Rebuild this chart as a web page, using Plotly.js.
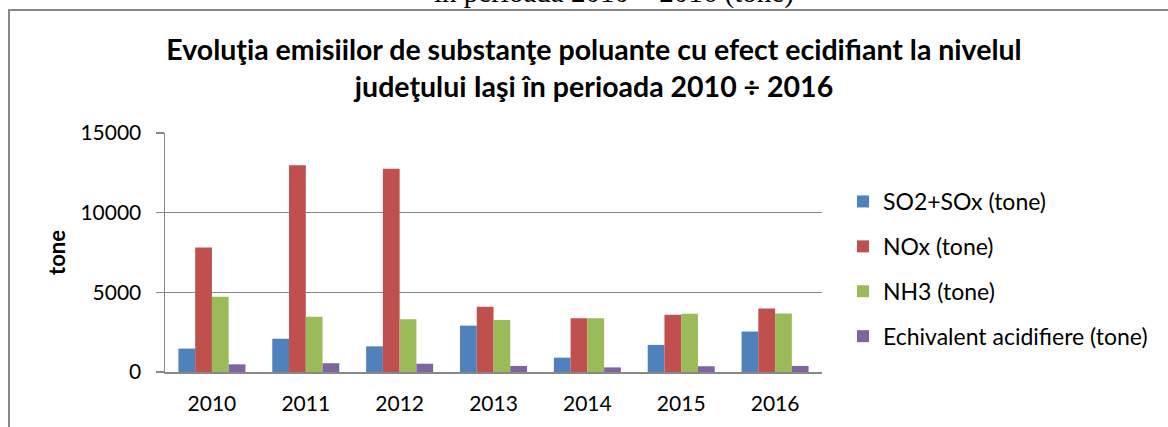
<!DOCTYPE html>
<html>
<head>
<meta charset="utf-8">
<script src="https://cdn.plot.ly/plotly-3.0.1.min.js"></script>
<style>
html,body{margin:0;padding:0;background:#fff;}
#chart{width:1168px;height:427px;}
</style>
</head>
<body>
<div id="chart"></div>
<script>
const years = ["2010","2011","2012","2013","2014","2015","2016"];
const so2 = [1470, 2090, 1610, 2910, 900, 1700, 2540];
const nox = [7820, 12980, 12750, 4090, 3380, 3590, 3980];
const nh3 = [4720, 3460, 3310, 3270, 3380, 3650, 3670];
const echiv = [480, 550, 520, 380, 290, 360, 380];
const seriesNames = ["SO2+SOx (tone)", "NOx (tone)", "NH3 (tone)", "Echivalent acidifiere (tone)"];
const colors = ["#4F81BD", "#C0504D", "#9BBB59", "#8064A2"];
const yTicks = [0, 5000, 10000, 15000];
const titleText = "Evoluţia emisiilor de substanţe poluante cu efect ecidifiant la nivelul<br>judeţului Iaşi în perioada 2010 ÷ 2016";
const topText = "în perioada 2010 ÷ 2016 (tone)";

const W = 1168, H = 427;
const L = 165, R = 822, T = 133, B = 372;
const pw = R - L, ph = B - T;
const px = v => (v - L) / pw;
const py = v => (B - v) / ph;

const allVals = [so2, nox, nh3, echiv];
const data = allVals.map((vals, i) => ({
  type: "bar",
  name: seriesNames[i],
  x: years,
  y: vals,
  marker: {color: colors[i], line: {width: 0}},
  legendgroup: "g" + i,
  hoverinfo: "x+y+name"
}));

const layout = {
  width: W, height: H,
  margin: {l: L, r: W - R, t: T, b: H - B, pad: 0},
  paper_bgcolor: "#fff",
  plot_bgcolor: "#fff",
  font: {family: "Lato, 'Open Sans', sans-serif", color: "#000", size: 21},
  barmode: "group",
  bargap: 0.286,
  bargroupgap: 0,
  title: {
    text: titleText,
    font: {family: "Lato, sans-serif", size: 28.5, color: "#000", weight: "bold"},
    x: 594 / W, xref: "container", xanchor: "center",
    y: 1 - 60 / H, yref: "container", yanchor: "middle"
  },
  xaxis: {
    type: "category",
    showline: true, linecolor: "#888", linewidth: 1.5,
    ticks: "", showgrid: false, zeroline: false,
    tickfont: {size: 21},
    ticklabelstandoff: 12
  },
  yaxis: {
    range: [0, 15000],
    tickvals: yTicks,
    ticktext: yTicks.map(String),
    showline: true, linecolor: "#888", linewidth: 1.5,
    ticks: "outside", ticklen: 8, tickcolor: "#888", tickwidth: 1.5,
    showgrid: true, gridcolor: "#888", gridwidth: 1.5,
    zeroline: false,
    tickfont: {size: 21},
    ticklabelstandoff: 10,
    title: {text: "tone", font: {size: 22, weight: "bold"}, standoff: 8}
  },
  legend: {
    x: px(843), xanchor: "left",
    y: py(180), yanchor: "top",
    traceorder: "grouped",
    tracegroupgap: 12,
    font: {size: 23},
    bgcolor: "rgba(0,0,0,0)"
  },
  shapes: [{
    type: "rect", xref: "paper", yref: "paper",
    x0: px(9), x1: px(1180), y0: py(10), y1: py(445),
    line: {color: "#888", width: 2}, fillcolor: "rgba(0,0,0,0)", layer: "below"
  }],
  annotations: [{
    text: topText, showarrow: false,
    xref: "paper", yref: "paper",
    x: px(613), xanchor: "center",
    y: py(11), yanchor: "bottom",
    font: {family: "'Liberation Serif', 'Times New Roman', serif", size: 29, color: "#000"}
  }]
};

Plotly.newPlot("chart", data, layout, {displayModeBar: false, staticPlot: true});
</script>
</body>
</html>
